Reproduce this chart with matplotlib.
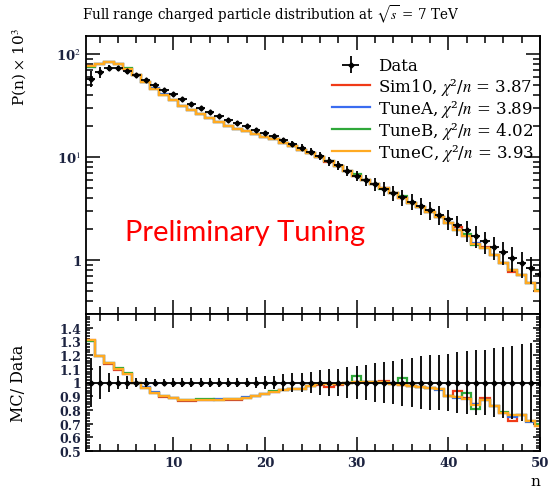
import numpy as np
import matplotlib
matplotlib.use("Agg")
import matplotlib.pyplot as plt
from matplotlib.ticker import MultipleLocator, LogLocator, FuncFormatter, NullFormatter

plt.rcParams["font.family"] = ["DejaVu Serif"]
plt.rcParams["mathtext.fontset"] = "stix"

# charged multiplicity n = 1..50, P(n) x 10^3
n = np.arange(1, 51)
edges = np.arange(0.5, 51.5, 1.0)
data = [58, 67, 74, 73, 68, 62.5, 56, 50, 45, 40.6,
        36.3, 32.9, 29.9, 27.4, 25.1, 23.1, 21.6, 20.0, 18.5, 17.2,
        16.0, 14.6, 13.4, 12.4, 11.3, 10.2, 9.2, 8.3, 7.35, 6.6,
        6.0, 5.45, 4.94, 4.49, 4.07, 3.70, 3.36, 3.05, 2.77, 2.51,
        2.21, 1.95, 1.72, 1.52, 1.35, 1.20, 1.06, 0.94, 0.83, 0.74]
rel_err = [0.18, 0.12, 0.07, 0.05, 0.05, 0.03, 0.03, 0.025, 0.025, 0.03,
           0.03, 0.03, 0.03, 0.03, 0.03, 0.03, 0.035, 0.035, 0.04, 0.05,
           0.05, 0.06, 0.07, 0.07, 0.08, 0.09, 0.10, 0.10, 0.11, 0.12,
           0.13, 0.14, 0.15, 0.16, 0.17, 0.18, 0.19, 0.20, 0.20, 0.21,
           0.22, 0.23, 0.24, 0.24, 0.25, 0.26, 0.27, 0.28, 0.29, 0.30]

# MC / Data ratios
ratio_sim10 = [1.31, 1.19, 1.135, 1.09, 1.06, 1.00, 0.963, 0.92, 0.895, 0.89,
               0.866, 0.866, 0.87, 0.873, 0.871, 0.874, 0.872, 0.888, 0.898, 0.915,
               0.93, 0.944, 0.953, 0.954, 0.976, 0.985, 0.968, 0.985, 1.0, 1.005,
               1.005, 1.005, 1.012, 0.99, 0.985, 0.976, 0.97, 0.961, 0.951, 0.905,
               0.94, 0.885, 0.84, 0.885, 0.825, 0.78, 0.72, 0.765, 0.72, 0.68]
ratio_tuneA = [1.30, 1.19, 1.14, 1.10, 1.06, 1.00, 0.968, 0.93, 0.905, 0.886,
               0.873, 0.873, 0.873, 0.873, 0.876, 0.878, 0.878, 0.895, 0.90, 0.918,
               0.932, 0.944, 0.951, 0.954, 0.976, 0.988, 0.99, 0.99, 1.0, 1.005,
               1.003, 1.005, 1.005, 0.995, 0.985, 0.976, 0.97, 0.958, 0.948, 0.905,
               0.885, 0.88, 0.845, 0.87, 0.825, 0.78, 0.75, 0.76, 0.715, 0.69]
ratio_tuneB = [1.30, 1.19, 1.145, 1.105, 1.07, 1.00, 0.963, 0.92, 0.898, 0.89,
               0.873, 0.873, 0.876, 0.876, 0.871, 0.876, 0.878, 0.888, 0.905, 0.915,
               0.935, 0.944, 0.951, 0.956, 0.976, 0.988, 0.99, 0.99, 1.0, 1.045,
               1.005, 1.003, 1.0, 0.99, 1.03, 0.976, 0.97, 0.961, 0.951, 0.905,
               0.895, 0.925, 0.81, 0.87, 0.825, 0.785, 0.76, 0.76, 0.72, 0.70]
ratio_tuneC = [1.31, 1.19, 1.14, 1.10, 1.06, 1.00, 0.963, 0.92, 0.898, 0.886,
               0.873, 0.873, 0.873, 0.873, 0.871, 0.876, 0.878, 0.888, 0.898, 0.915,
               0.932, 0.944, 0.951, 0.954, 0.976, 0.988, 0.988, 0.99, 1.0, 1.005,
               1.005, 1.003, 1.005, 0.99, 0.985, 0.976, 0.97, 0.961, 0.951, 0.905,
               0.895, 0.883, 0.835, 0.87, 0.825, 0.78, 0.76, 0.76, 0.72, 0.68]

labels = ["Sim10, $\\chi$²/$n$ = 3.87", "TuneA, $\\chi$²/$n$ = 3.89",
          "TuneB, $\\chi$²/$n$ = 4.02", "TuneC, $\\chi$²/$n$ = 3.93"]
ratios = [ratio_sim10, ratio_tuneA, ratio_tuneB, ratio_tuneC]
colors = ["#f03a17", "#3a6cf0", "#2fa83a", "#ffaa22"]

data = np.array(data)
err = data * np.array(rel_err)
tick_col = "#1c2340"

fig = plt.figure(figsize=(5.49, 4.89), dpi=100)
ax = fig.add_axes([86/549, 1-315/489, 454/549, 278/489])
rax = fig.add_axes([86/549, 1-452/489, 454/549, 137/489], sharex=ax)

# main panel
for r, c, lab in zip(ratios, colors, labels):
    ax.stairs(data * np.array(r), edges, baseline=None, color=c, lw=1.6, label=lab, zorder=2)
ax.errorbar(n, data, yerr=err, xerr=0.5, fmt="D", ms=2.6, color="black",
            ecolor="black", elinewidth=1.3, capsize=0, zorder=3, label="Data")
ax.set_yscale("log")
ax.set_ylim(0.3, 150)
ax.set_xlim(0.5, 50)

h, l = ax.get_legend_handles_labels()
order = [l.index("Data")] + [l.index(x) for x in labels]
ax.legend([h[i] for i in order], [l[i] for i in order], loc="upper right",
          bbox_to_anchor=(0.995, 0.935), frameon=False, fontsize=12,
          handlelength=2.3, handletextpad=0.5, labelspacing=0.07,
          borderaxespad=0.0, borderpad=0.2)

ax.yaxis.set_major_locator(LogLocator(base=10, numticks=10))
ax.yaxis.set_minor_locator(LogLocator(base=10, subs=np.arange(2, 10), numticks=20))
ax.yaxis.set_minor_formatter(NullFormatter())
ylab = {1: "1", 10: "10$^{1}$", 100: "10$^{2}$"}
ax.yaxis.set_major_formatter(FuncFormatter(lambda v, p: ylab.get(int(round(v)), "")))
ax.set_ylabel("P(n) $\\times$ 10$^3$", loc="top", fontsize=11)
ax.yaxis.set_label_coords(-0.125, 1.03)

# ratio panel
for r, c in zip(ratios, colors):
    rax.stairs(r, edges, baseline=None, color=c, lw=1.6, zorder=2)
rax.errorbar(n, np.ones(len(n)), yerr=rel_err, xerr=0.5, fmt="D", ms=2.6,
             color="black", ecolor="black", elinewidth=1.3, capsize=0, zorder=3)
rax.set_ylim(0.5, 1.5)
rax.set_yticks(np.round(np.arange(0.5, 1.45, 0.1), 1))
rax.set_yticklabels(["0.5", "0.6", "0.7", "0.8", "0.9", "1", "1.1", "1.2", "1.3", "1.4"])
rax.yaxis.set_minor_locator(MultipleLocator(0.02))
rax.set_ylabel("MC/ Data", fontsize=11.5)
rax.yaxis.set_label_coords(-0.13, 0.5)
rax.set_xlabel("n", loc="right", fontsize=11)
rax.xaxis.set_label_coords(1.0, -0.17)

for a in (ax, rax):
    a.xaxis.set_major_locator(MultipleLocator(10))
    a.xaxis.set_minor_locator(MultipleLocator(2))
    a.tick_params(which="both", direction="in", top=True, right=True,
                  width=1.1, colors="black", labelcolor=tick_col, labelsize=9.5)
    a.tick_params(which="major", length=10)
    a.tick_params(which="minor", length=5)
    for s in a.spines.values():
        s.set_linewidth(1.3)
    for t in a.get_xticklabels() + a.get_yticklabels():
        t.set_fontweight("bold")
rax.tick_params(axis="y", which="major", length=5, labelsize=9)
rax.tick_params(axis="y", which="minor", length=3)
ax.tick_params(axis="x", labelbottom=False)

fig.text(82/549, 1-15/489, "Full range charged particle distribution at $\\sqrt{s}$ = 7 TeV",
         ha="left", va="center", fontsize=9.75)
fig.text(245/549, 1-233/489, "Preliminary Tuning", ha="center", va="center",
         fontsize=21, color="#ff0000", family="Lato")

fig.savefig("out.png", dpi=100)
